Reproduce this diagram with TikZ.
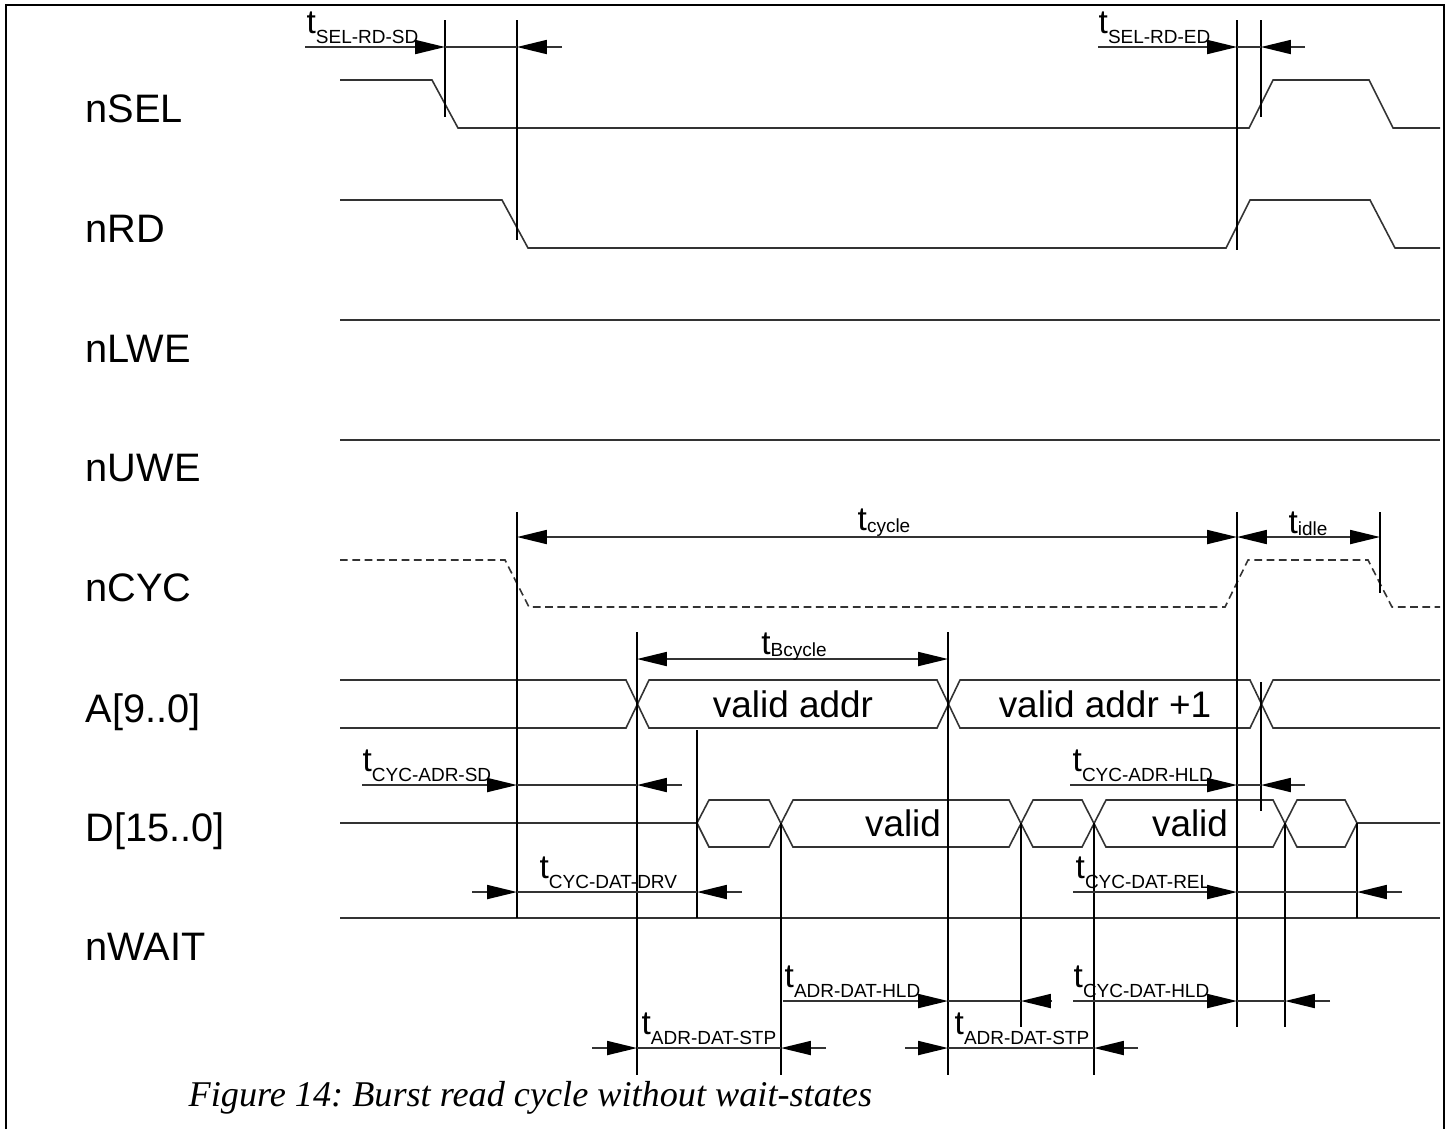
\documentclass[tikz,border=0pt]{standalone}
\usepackage{fontspec}
\setmainfont{Liberation Sans}
\newfontfamily\capfont{Liberation Serif}
\usetikzlibrary{arrows.meta}
\frenchspacing

\newcommand{\tsd}[1]{t\raisebox{-3pt}{\fontsize{5.4}{6}\selectfont #1}}
\newcommand{\tsc}[1]{t\raisebox{-0.6pt}{\fontsize{5.4}{6}\selectfont #1}}

\begin{document}
\begin{tikzpicture}[x=0.01cm, y=-0.01cm,
    sig/.style={line width=0.45pt, black!80},
    tickline/.style={line width=0.35pt, black},
    dim/.style={sig, -{Triangle[length=8.5pt,width=4pt,color=black]}},
    dimboth/.style={sig, {Triangle[length=8.5pt,width=4pt,color=black]}-{Triangle[length=8.5pt,width=4pt,color=black]}},
    signame/.style={anchor=base west, inner sep=0pt, font=\fontsize{11.3}{13}\selectfont},
    val/.style={anchor=base, inner sep=0pt, font=\fontsize{10.5}{12}\selectfont},
    tl/.style={anchor=base west, inner sep=0pt, font=\fontsize{9.5}{11}\selectfont},
    tc/.style={anchor=base, inner sep=0pt, font=\fontsize{9.5}{11}\selectfont}]
  \useasboundingbox (0,0) rectangle (1449,1129);
  \draw [line width=0.7pt] (6,1129) -- (6,5) -- (1444,5) -- (1444,1129);

  % signal names
  \node [signame] at (85,122) (nsel) {nSEL};
  \node [signame] at (85,242) (nrd) {nRD};
  \node [signame] at (85,362) (nlwe) {nLWE};
  \node [signame] at (85,481) (nuwe) {nUWE};
  \node [signame] at (85,601) (ncyc) {nCYC};
  \node [signame] at (85,722) (addr) {A[9..0]};
  \node [signame] at (85,841) (data) {D[15..0]};
  \node [signame] at (85,960) (nwait) {nWAIT};

  % waveforms
  \draw [sig] plot coordinates {(340,80) (432,80) (458,128) (1249,128) (1273,80) (1369,80) (1393,128) (1440,128)};
  \draw [sig] plot coordinates {(340,200) (502,200) (528,248) (1226,248) (1250,200) (1370,200) (1395,248) (1440,248)};
  \draw [sig] plot coordinates {(340,320) (1440,320)};
  \draw [sig] plot coordinates {(340,440) (1440,440)};
  \draw [sig, dash pattern=on 2.2pt off 1.3pt] plot coordinates {(340,560) (505,560) (529,607) (1225,607) (1248,560) (1368,560) (1392,607) (1440,607)};
  \draw [sig] plot coordinates {(340,680) (626,680) (649,728) (937,728) (960,680) (1250,680) (1273,728) (1440,728)};
  \draw [sig] plot coordinates {(340,728) (626,728) (649,680) (937,680) (960,728) (1250,728) (1273,680) (1440,680)};
  \draw [sig] plot coordinates {(340,823) (697,823) (709,800) (769,800) (793,847) (1009,847) (1033,800) (1082,800) (1106,847) (1273,847) (1297,800) (1345,800) (1357,823) (1440,823)};
  \draw [sig] plot coordinates {(697,823) (709,847) (769,847) (793,800) (1009,800) (1033,847) (1082,847) (1106,800) (1273,800) (1297,847) (1345,847) (1357,823)};
  \draw [sig] plot coordinates {(340,918) (1440,918)};

  % bus values
  \node [val] at (793,717) (va) {valid addr};
  \node [val] at (1105,717) (vb) {valid addr +1};
  \node [val] at (903,836) (vc) {valid};
  \node [val] at (1190,836) (vd) {valid};

  % timing marks
  \foreach \x/\ya/\yb in {445/20/117, 517/20/240, 1237/20/250, 1261/20/117,
      517/512/918, 1380/512/593, 637/632/1075, 948/632/1075, 697/730/918,
      1261/682/811, 781/823/1075, 1021/823/1027, 1094/823/1075, 1285/823/1027, 1357/823/918}
    \draw [tickline] (\x,\ya) -- (\x,\yb);
  \draw [tickline, line width=0.6pt] (1237,512) -- (1237,1027);

  % dimension arrows
  \foreach \y/\a/\p/\q/\b in {47/305/445/517/562, 47/1098/1237/1261/1305,
      785/362/517/637/682, 785/1070/1237/1261/1305, 892/472/517/697/742,
      892/1073/1237/1357/1402, 1001/783/948/1021/1052, 1001/1073/1237/1285/1330,
      1048/592/637/781/826, 1048/905/948/1094/1138}
  {
    \draw [dim] (\a,\y) -- (\p,\y);
    \draw [sig] (\p,\y) -- (\q,\y);
    \draw [dim] (\b,\y) -- (\q,\y);
  }
  \draw [dimboth] (517,537) -- (1237,537);
  \draw [dimboth] (1237,537) -- (1380,537);
  \draw [dimboth] (637,659) -- (948,659);

  % timing labels
  \node [tl] at (306,33) (tselsd) {\tsd{SEL-RD-SD}};
  \node [tl] at (1098,33) (tseled) {\tsd{SEL-RD-ED}};
  \node [tc] at (884,530) (tcycle) {\tsc{cycle}};
  \node [tc] at (1308,533) (tidle) {\tsc{idle}};
  \node [tc] at (794,654) (tbcycle) {\tsc{Bcycle}};
  \node [tl] at (362,771) (tcycadrsd) {\tsd{CYC-ADR-SD}};
  \node [tl] at (1072,771) (tcycadrhld) {\tsd{CYC-ADR-HLD}};
  \node [tl] at (539,878) (tcycdatdrv) {\tsd{CYC-DAT-DRV}};
  \node [tl] at (1075,878) (tcycdatrel) {\tsd{CYC-DAT-REL}};
  \node [tl] at (784,987) (tadrdathld) {\tsd{ADR-DAT-HLD}};
  \node [tl] at (1073,987) (tcycdathld) {\tsd{CYC-DAT-HLD}};
  \node [tl] at (641,1034) (tadrdatstpa) {\tsd{ADR-DAT-STP}};
  \node [tl] at (954,1034) (tadrdatstpb) {\tsd{ADR-DAT-STP}};

  % caption
  \node [anchor=base west, inner sep=0pt, font=\capfont\itshape\fontsize{10.3}{12}\selectfont] at (188,1106) (caption) {Figure 14: Burst read cycle without wait-states};
\end{tikzpicture}
\end{document}
